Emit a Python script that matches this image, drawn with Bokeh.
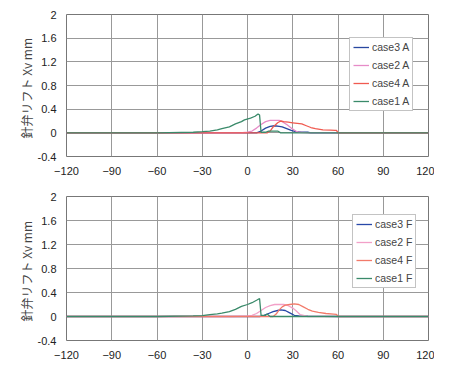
from bokeh.plotting import figure
from bokeh.layouts import column
from bokeh.models import Legend, LegendItem, FixedTicker
from bokeh.embed import file_html
from bokeh.resources import INLINE

# ---- data (crank angle deg, needle lift mm) ----
x_ticks = [-120, -90, -60, -30, 0, 30, 60, 90, 120]
y_ticks = [-0.4, 0, 0.4, 0.8, 1.2, 1.6, 2]

a_case1_x = [-120, -60, -36, -30, -25, -20, -17, -12, -8, -4, -2, 2, 5, 7, 8, 9, 12, 14, 17, 20, 22, 30, 120]
a_case1_y = [0, 0, 0.01, 0.02, 0.03, 0.05, 0.07, 0.10, 0.15, 0.19, 0.22, 0.25, 0.28, 0.32, 0.30, 0.01, 0.01, 0.03, 0.03, 0.03, 0.0, 0, 0]
a_case2_x = [-120, -5, 0, 3, 6, 9, 12, 15, 18, 21, 23, 26, 29, 32, 34, 40, 120]
a_case2_y = [0, 0, 0.01, 0.03, 0.08, 0.14, 0.19, 0.21, 0.21, 0.21, 0.19, 0.14, 0.08, 0.03, 0.01, 0, 0]
a_case3_x = [-120, 6, 9, 12, 15, 18, 21, 23, 26, 29, 32, 36, 40, 42, 120]
a_case3_y = [0, 0, 0.03, 0.08, 0.11, 0.12, 0.11, 0.10, 0.07, 0.04, 0.02, 0.01, 0.01, 0, 0]
a_case4_x = [-120, 13, 15, 17, 20, 22, 24, 27, 30, 33, 36, 39, 42, 45, 50, 55, 58, 59, 60, 120]
a_case4_y = [0, 0, 0.03, 0.10, 0.17, 0.20, 0.19, 0.18, 0.17, 0.16, 0.15, 0.12, 0.09, 0.07, 0.05, 0.045, 0.04, 0.04, 0, 0]

f_case1_x = [-120, -60, -36, -30, -25, -20, -17, -12, -8, -4, 0, 3, 6, 8, 9, 12, 13, 15, 18, 120]
f_case1_y = [0, 0, 0.01, 0.015, 0.03, 0.045, 0.055, 0.08, 0.12, 0.17, 0.20, 0.23, 0.27, 0.30, 0.02, 0.02, 0.04, 0.0, 0, 0]
f_case2_x = [-120, -10, 0, 3, 6, 9, 12, 15, 18, 21, 24, 27, 30, 32, 35, 40, 120]
f_case2_y = [0, 0, 0.01, 0.02, 0.05, 0.10, 0.15, 0.18, 0.20, 0.20, 0.20, 0.18, 0.14, 0.10, 0.03, 0, 0]
f_case3_x = [-120, 8, 11, 14, 17, 20, 22, 25, 28, 31, 34, 40, 60, 120]
f_case3_y = [0, 0, 0.02, 0.05, 0.08, 0.10, 0.11, 0.10, 0.06, 0.02, 0.01, 0.005, 0, 0]
f_case4_x = [-120, 17, 19, 21, 23, 25, 28, 31, 34, 37, 40, 43, 47, 52, 57, 59, 60, 120]
f_case4_y = [0, 0, 0.04, 0.11, 0.16, 0.19, 0.20, 0.21, 0.20, 0.16, 0.12, 0.09, 0.07, 0.05, 0.04, 0.035, 0, 0]

y_label = "針弁リフト  Xv  mm"
FONT = "Liberation Sans"
CJK = "Noto Sans CJK JP"


def make_fig(series, legend_loc, top, bottom, frame_h):
    p = figure(output_backend="svg", toolbar_location=None,
               x_range=(-120, 120), y_range=(-0.4, 2),
               frame_width=362, frame_height=frame_h,
               min_border_left=66, min_border_right=6,
               min_border_top=top, min_border_bottom=bottom,
               background_fill_color="white", border_fill_color="white")
    p.outline_line_color = "#777777"
    p.outline_line_width = 1
    p.xaxis.ticker = FixedTicker(ticks=x_ticks)
    p.yaxis.ticker = FixedTicker(ticks=y_ticks)
    p.yaxis.major_label_overrides = {-0.4: "-0.4", 0: "0", 0.4: "0.4", 0.8: "0.8",
                                     1.2: "1.2", 1.6: "1.6", 2: "2"}
    for ax in (p.xaxis, p.yaxis):
        ax.axis_line_color = None
        ax.major_tick_line_color = None
        ax.minor_tick_line_color = None
        ax.major_label_text_font = FONT
        ax.major_label_text_font_size = "11px"
        ax.major_label_text_color = "#222222"
    p.xaxis.major_label_standoff = 4
    p.yaxis.major_label_standoff = 4
    p.yaxis.axis_label = y_label
    p.yaxis.axis_label_text_font = CJK
    p.yaxis.axis_label_text_font_size = "12px"
    p.yaxis.axis_label_text_font_style = "normal"
    p.yaxis.axis_label_standoff = 0
    p.grid.grid_line_color = "#999999"
    p.grid.grid_line_width = 1

    items = []
    for name, xs, ys, color in series:
        r = p.line(xs, ys, line_color=color, line_width=1.3)
        items.append(LegendItem(label=name, renderers=[r]))
    leg = Legend(items=items, location=legend_loc)
    leg.label_text_font = FONT
    leg.label_text_font_size = "10.5px"
    leg.label_height = 12
    leg.glyph_height = 12
    leg.glyph_width = 16
    leg.label_standoff = 3
    leg.spacing = 6
    leg.padding = 3
    leg.margin = 0
    leg.border_line_color = "#888888"
    leg.background_fill_color = "white"
    leg.background_fill_alpha = 1
    p.add_layout(leg, "center")
    return p


top_series = [
    ("case3 A", a_case3_x, a_case3_y, "#2848a0"),
    ("case2 A", a_case2_x, a_case2_y, "#e68cc8"),
    ("case4 A", a_case4_x, a_case4_y, "#f05a50"),
    ("case1 A", a_case1_x, a_case1_y, "#3a8a6a"),
]
bot_series = [
    ("case3 F", f_case3_x, f_case3_y, "#2848a8"),
    ("case2 F", f_case2_x, f_case2_y, "#f2a0c8"),
    ("case4 F", f_case4_x, f_case4_y, "#f27a6a"),
    ("case1 F", f_case1_x, f_case1_y, "#3a8a6a"),
]

p1 = make_fig(top_series, (283, 45), 14, 22, 142)
p2 = make_fig(bot_series, (286, 52), 18, 19, 144)

layout = column(p1, p2, spacing=0)
open("out.html", "w").write(file_html(layout, INLINE))
